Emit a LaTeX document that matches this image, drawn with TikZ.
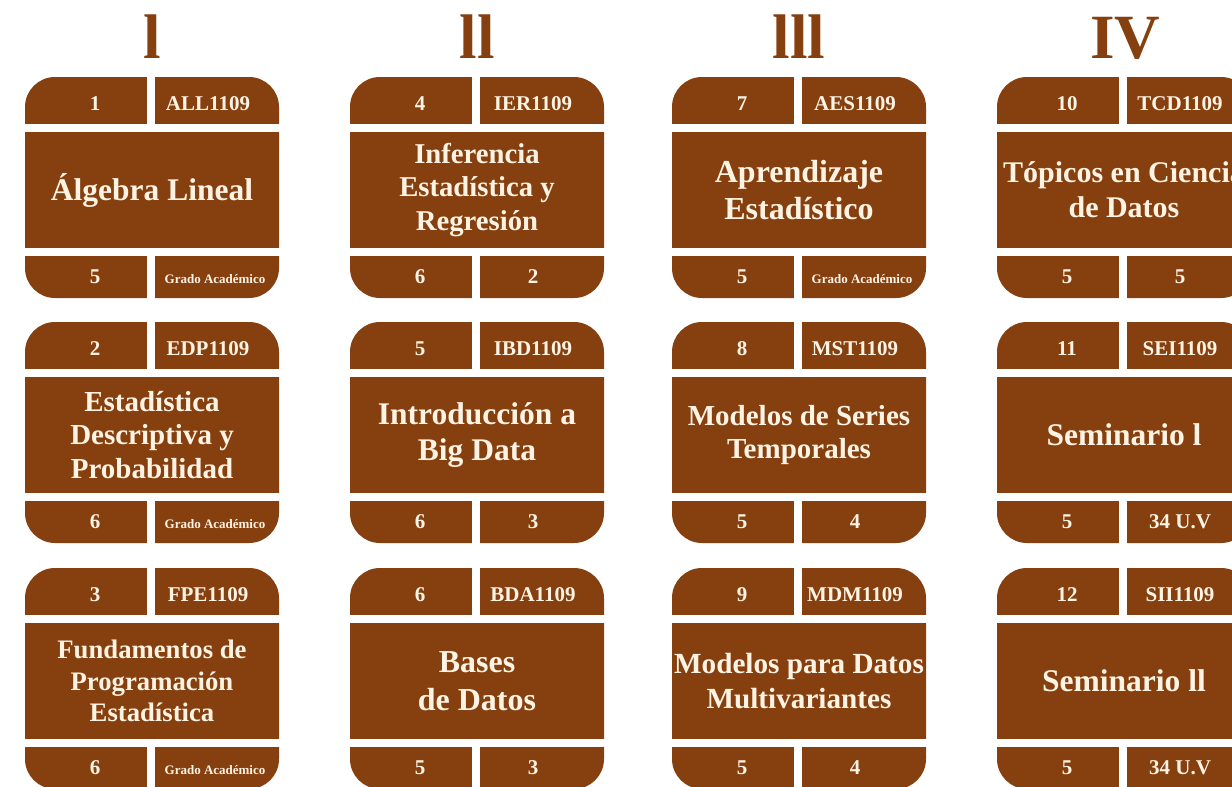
\documentclass[tikz,border=0pt]{standalone}
\usepackage{fontspec}
\setmainfont{Liberation Serif}
\usepackage{tikz}
\definecolor{cafe}{RGB}{134,64,16}
\definecolor{crema}{RGB}{255,244,228}
\tikzset{cel/.style={anchor=base,text=crema,font=\bfseries\fontsize{21}{21}\selectfont}}
\tikzset{gra/.style={cel,xshift=7pt,font=\bfseries\fontsize{13}{13}\selectfont}}
\tikzset{mat/.style={align=center,text=crema}}
\tikzset{rom/.style={anchor=base,text=cafe,font=\bfseries\fontsize{63}{63}\selectfont}}
% one course card: x, y, number, code, title size, title, credits, last cell, its style
\newcommand{\materia}[9]{%
  \pgfmathsetmacro{\interl}{1.17*#5}
  \fill[cafe,rounded corners=30pt] (#1,#2) rectangle ++(254,221);
  \fill[white] (#1-2,#2+47) rectangle ++(258,8);
  \fill[white] (#1-2,#2+171) rectangle ++(258,8);
  \fill[white] (#1+122,#2-2) rectangle ++(8,51);
  \fill[white] (#1+122,#2+177) rectangle ++(8,46);
  \node[cel] (n#3) at (#1+70,#2+33) {#3};
  \node[cel] (c#3) at (#1+183,#2+33) {#4};
  \node[mat,font=\bfseries\fontsize{#5}{\interl}\selectfont] (t#3) at (#1+127,#2+113) {#6};
  \node[cel] (u#3) at (#1+70,#2+206) {#7};
  \node[#9] (r#3) at (#1+183,#2+206) {#8};
}
\newcommand{\grado}{Grado Académico}

\begin{document}
\begin{tikzpicture}[x=1pt,y=-1pt]
  \path[use as bounding box,fill=white] (0,0) rectangle (1232,787);
  % semesters
  \node[rom] (s1) at (152,58) {l};
  \node[rom] (s2) at (477,58) {ll};
  \node[rom] (s3) at (799,58) {lll};
  \node[rom] (s4) at (1125,58) {IV};
  % first semester
  \materia{25}{77}{1}{ALL1109}{31.5}{Álgebra Lineal}{5}{\grado}{gra}
  \materia{25}{322}{2}{EDP1109}{29}{Estadística\\Descriptiva y\\Probabilidad}{6}{\grado}{gra}
  \materia{25}{568}{3}{FPE1109}{26.7}{Fundamentos de\\Programación\\Estadística}{6}{\grado}{gra}
  % second semester
  \materia{350}{77}{4}{IER1109}{28.7}{Inferencia\\Estadística y\\Regresión}{6}{2}{cel}
  \materia{350}{322}{5}{IBD1109}{31.5}{Introducción a\\Big Data}{6}{3}{cel}
  \materia{350}{568}{6}{BDA1109}{32}{Bases\\de Datos}{5}{3}{cel}
  % third semester
  \materia{672}{77}{7}{AES1109}{32}{Aprendizaje\\Estadístico}{5}{\grado}{gra}
  \materia{672}{322}{8}{MST1109}{29}{Modelos de Series\\Temporales}{5}{4}{cel}
  \materia{672}{568}{9}{MDM1109}{29.2}{Modelos para Datos\\Multivariantes}{5}{4}{cel}
  % fourth semester
  \materia{997}{77}{10}{TCD1109}{30}{Tópicos en Ciencia\\de Datos}{5}{5}{cel}
  \materia{997}{322}{11}{SEI1109}{31.5}{Seminario l}{5}{34 U.V}{cel}
  \materia{997}{568}{12}{SII1109}{31.5}{Seminario ll}{5}{34 U.V}{cel}
\end{tikzpicture}
\end{document}
